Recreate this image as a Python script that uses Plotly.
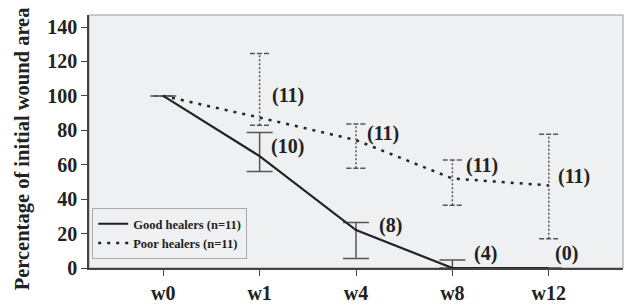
import plotly.graph_objects as go

# ---- data ----
weeks = ["w0", "w1", "w4", "w8", "w12"]
good_mean = [100, 65, 22, 0, 0]
good_upper = [100, 78.7, 26.5, 4.6, 0]
good_lower = [100, 56, 5.5, 0, 0]
good_n = ["", "(10)", "(8)", "(4)", "(0)"]

poor_mean = [100, 87.4, 74.3, 52, 48]
poor_upper = [100, 124.6, 83.6, 62.7, 77.7]
poor_lower = [100, 82.9, 57.9, 36.4, 17]
poor_n = ["", "(11)", "(11)", "(11)", "(11)"]

y_ticks = [0, 20, 40, 60, 80, 100, 120, 140]

# ---- style ----
FONT = "Liberation Serif"
INK = "#222222"
BAR = "#555555"
BG = "#eff0f2"
x = list(range(len(weeks)))
cap = 0.1  # half-width of poor-healer caps, in axis units

good_dx = [0, 9, 21, 20, 4]
good_dy = [0, 10, 5, 15, 15]
poor_dx = [0, 10, 9, 12, 7]
poor_dy = [0, 22, 7, 13, 9]

fig = go.Figure()

# poor healers error bars (dotted stems, dashed caps)
stem_x, stem_y, cap_x, cap_y = [], [], [], []
for xi, lo, hi in zip(x, poor_lower, poor_upper):
    stem_x += [xi, xi, None]
    stem_y += [lo, hi, None]
    for v in (lo, hi):
        cap_x += [xi - cap, xi + cap, None]
        cap_y += [v, v, None]
fig.add_trace(go.Scatter(x=stem_x, y=stem_y, mode="lines", showlegend=False,
                         hoverinfo="skip",
                         line=dict(color=BAR, width=1.5, dash="2px,2px")))
fig.add_trace(go.Scatter(x=cap_x, y=cap_y, mode="lines", showlegend=False,
                         hoverinfo="skip",
                         line=dict(color=BAR, width=1.5, dash="5px,2px")))

# good healers
fig.add_trace(go.Scatter(
    x=x, y=good_mean, mode="lines", name="<b>Good healers (n=11)</b>",
    line=dict(color=INK, width=2.2),
    error_y=dict(type="data", symmetric=False,
                 array=[u - m for u, m in zip(good_upper, good_mean)],
                 arrayminus=[m - l for m, l in zip(good_mean, good_lower)],
                 color=BAR, thickness=1.5, width=13),
))
# poor healers
fig.add_trace(go.Scatter(
    x=x, y=poor_mean, mode="lines", name="<b>Poor healers (n=11)</b>",
    line=dict(color=INK, width=2.5, dash="3px,6px"),
))

for xi, m, t, dx, dy in zip(x, good_mean, good_n, good_dx, good_dy):
    if t:
        fig.add_annotation(x=xi, y=m, text=f"<b>{t}</b>", showarrow=False, xanchor="left",
                           yanchor="middle", xshift=dx, yshift=dy,
                           font=dict(family=FONT, size=20, color=INK))
for xi, m, t, dx, dy in zip(x, poor_mean, poor_n, poor_dx, poor_dy):
    if t:
        fig.add_annotation(x=xi, y=m, text=f"<b>{t}</b>", showarrow=False, xanchor="left",
                           yanchor="middle", xshift=dx, yshift=dy,
                           font=dict(family=FONT, size=20, color=INK))

fig.add_annotation(xref="paper", yref="paper", x=-0.125, y=0.47,
                   text="<b>Percentage of initial wound area</b>",
                   textangle=-90, showarrow=False, xanchor="center", yanchor="middle",
                   font=dict(family=FONT, size=20.5, color=INK))

fig.update_layout(
    width=625, height=306,
    margin=dict(l=89, r=2, t=15, b=34),
    paper_bgcolor="white", plot_bgcolor=BG,
    font=dict(family=FONT, color=INK),
    legend=dict(x=0.006, y=0.035, xanchor="left", yanchor="bottom",
                bgcolor=BG, bordercolor="#aaaaaa", borderwidth=1,
                font=dict(family=FONT, size=12.5, color=INK),
                itemwidth=30, tracegroupgap=0),
)
fig.update_xaxes(range=[-0.77, 4.77], tickvals=x,
                 ticktext=[f"<b>{w}</b>" for w in weeks],
                 showgrid=False, zeroline=False, showline=True, linecolor="#444",
                 linewidth=1.5, mirror=False, ticks="outside", ticklen=6,
                 tickcolor="#444", tickfont=dict(family=FONT, size=20, color=INK))
fig.update_yaxes(range=[0, 147], tickvals=y_ticks,
                 ticktext=[f"<b>{v}</b>" for v in y_ticks],
                 showgrid=False, zeroline=False, showline=True, linecolor="#444",
                 linewidth=1.5, ticks="outside", ticklen=6, tickcolor="#444",
                 tickfont=dict(family=FONT, size=20, color=INK))
# light frame on top and right
fig.add_shape(type="rect", xref="paper", yref="paper", x0=0, y0=0, x1=1, y1=1,
              line=dict(color="#999999", width=1), layer="below")

fig.write_html("out.html", config={"displayModeBar": False},
               post_script="document.body.style.margin='0';")
